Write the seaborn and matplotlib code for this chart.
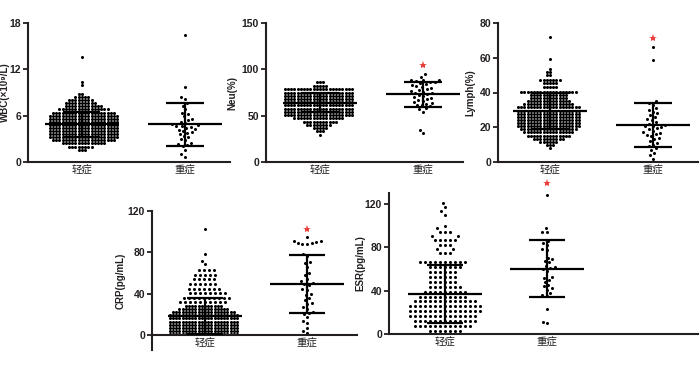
import warnings
import numpy as np
import pandas as pd
import matplotlib
matplotlib.use("Agg")
import matplotlib.pyplot as plt
import seaborn as sns

warnings.filterwarnings("ignore")

GROUPS = ['轻症', '重症']

# --- values ---
# mild groups are drawn as rows of dots: row value + number of dots in the row
wbc_mild_vals = [13.6, 10.4, 10.0, 8.8, 8.4, 8.0, 7.6, 7.2, 6.8, 6.4, 6.0, 5.6, 5.2, 4.8,
                 4.4, 4.0, 3.6, 3.2, 2.8, 2.4, 2.0, 1.6]
wbc_mild_counts = [1, 1, 1, 2, 5, 8, 10, 12, 16, 20, 22, 22, 22, 22, 22, 22, 22, 22, 20, 14, 8, 3]
wbc_severe = [16.4, 9.7, 8.4, 8.2, 7.6, 7.3, 6.8, 6.4, 6.2, 5.9, 5.6, 5.5, 5.2, 5.0, 4.9, 4.8,
              4.7, 4.6, 4.5, 4.4, 4.3, 4.2, 4.0, 3.9, 3.8, 3.6, 3.4, 3.2, 3.0, 2.8, 2.5, 2.3,
              2.2, 2.1, 1.6, 1.0, 0.7]

neu_mild_vals = [86, 82, 78.5, 75, 71.5, 68, 64.5, 61, 57.5, 54, 50.5, 47, 43.5, 40, 36.5, 33, 29.5]
neu_mild_counts = [3, 5, 22, 22, 22, 22, 22, 22, 22, 22, 22, 16, 11, 8, 5, 3, 1]
neu_severe = [95, 92, 89, 88, 88, 87, 86, 86, 85, 84, 83, 82, 81, 80, 79, 78, 77, 76, 75, 74,
              73, 72, 71, 70, 69, 68, 67, 66, 65, 64, 63, 62, 61, 60, 58, 57, 54, 35, 31]

lymph_mild_vals = [71.8, 59, 53.4, 51.6, 49.8, 47, 45.2, 43.4, 40.4, 38.6, 36.8, 35, 33.2, 31.4,
                   29.6, 27.8, 26, 24.2, 22.4, 20.6, 18.8, 17, 15.2, 13.4, 11.6, 9.8, 8]
lymph_mild_counts = [1, 1, 1, 2, 2, 7, 5, 5, 18, 12, 12, 14, 16, 20, 20, 20, 20, 20, 20, 20, 18,
                     16, 14, 10, 6, 3, 1]
lymph_severe = [66, 58.5, 35, 34, 33, 31, 30, 29, 28, 27, 26, 25, 24, 23, 22, 21.5, 21, 20.5, 20,
                19.5, 19, 18, 17, 16.5, 16, 15.5, 15, 14, 13, 12, 11, 10, 9, 8, 7, 5, 4, 2]

crp_mild_vals = [102.3, 78, 72, 68.5, 63, 58.5, 54, 49.5, 45, 40.5, 36, 31.5,
                 28, 25, 22, 19, 16, 13, 10, 7, 4, 1]
crp_mild_counts = [1, 1, 1, 1, 4, 5, 5, 6, 7, 8, 10, 10,
                   12, 16, 20, 22, 22, 22, 22, 22, 22, 22]
crp_severe = [95, 91, 90, 89, 88, 88, 89, 91, 78, 76, 71, 70, 66, 60, 58, 54, 52, 50, 49, 48, 45,
              44, 40, 39, 36, 34, 31, 30, 27, 25, 22, 21, 20, 17, 14, 12, 7, 4, 2]

esr_mild_vals = [121, 117, 113, 110, 100, 97.5, 94, 90, 86.5, 82, 78, 74.5, 66, 61.5, 57, 52.5,
                 48, 43.5, 39, 34.5, 30, 25.5, 21, 16.5, 12, 7.5, 3]
esr_mild_counts = [1, 1, 1, 1, 1, 1, 3, 2, 5, 3, 2, 3, 10, 7, 6, 6, 6, 7, 9, 10, 13, 15, 15, 14,
                   13, 12, 7]
esr_severe = [128, 98, 94, 94, 86, 84, 82, 78, 77, 70, 69, 67, 66, 63, 62, 61, 60, 58, 53, 52,
              50, 48, 45, 44, 42, 41, 38, 36, 35, 23.5, 11.5, 10]

# mean and SD bars (mild, severe)
wbc_mean, wbc_sd = [4.9, 4.9], [1.6, 2.8]
neu_mean, neu_sd = [64, 73], [10, 13.4]
lymph_mean, lymph_sd = [29.3, 21.2], [10.5, 12.8]
crp_mean, crp_sd = [18.4, 49.2], [17.6, 28.2]
esr_mean, esr_sd = [36.8, 60.3], [27, 26.5]

# red significance stars above the severe group
neu_star, lymph_star, crp_star, esr_star = 104.6, 71.2, 102.3, 139


def make_df(vals, counts, severe):
    mild = np.repeat(vals, counts)
    return pd.DataFrame({
        'group': ['轻症'] * len(mild) + ['重症'] * len(severe),
        'value': np.concatenate([mild, severe]),
    })


sns.set_style("ticks")
plt.rcParams['font.family'] = ['Liberation Sans', 'DejaVu Sans']

W, H = 700, 368
fig = plt.figure(figsize=(7, 3.68), dpi=100)

INK = '#231f20'
CJK = ['Noto Sans CJK SC', 'DejaVu Sans']


def swarm(ax, sub, gap):
    if len(sub):
        sns.swarmplot(data=sub, x='group', y='value', order=GROUPS, color='black',
                      size=2.2, linewidth=gap, edgecolor=(0, 0, 0, 0), ax=ax, zorder=2)


def draw_panel(px, df, ylabel, ylim, yticks, means, sds, star, xlim, label_x,
               zero_axis=False, loose_from=None):
    left, top, right, bottom = px
    ax = fig.add_axes([left / W, 1 - bottom / H, (right - left) / W, (bottom - top) / H])
    ax.set_xlim(xlim)
    ax.set_ylim(ylim)
    mild = df[df['group'] == '轻症']
    if loose_from is None:
        swarm(ax, mild, 0)
    else:
        # packed core, looser spread for the thin upper part
        swarm(ax, mild[mild['value'] < loose_from], 0)
        swarm(ax, mild[mild['value'] >= loose_from], 1.2)
    swarm(ax, df[df['group'] == '重症'], 1.0)
    for i in range(2):
        m, s = means[i], sds[i]
        ax.hlines(m, i - 0.36, i + 0.36, color='black', lw=1.6, zorder=3)
        ax.vlines(i, m - s, m + s, color='black', lw=1.6, zorder=3)
        ax.hlines([m - s, m + s], i - 0.18, i + 0.18, color='black', lw=1.6, zorder=3)
    if star is not None:
        ax.plot(1, star, marker='*', color='#e8403a', ms=6, mew=0, clip_on=False, zorder=4)
    ax.set_xlim(xlim)
    ax.set_ylim(ylim)
    sns.despine(ax=ax)
    if zero_axis:
        ax.spines['bottom'].set_position(('data', 0))
    for sp in ('left', 'bottom'):
        ax.spines[sp].set_linewidth(1.5)
        ax.spines[sp].set_color(INK)
    ax.set_yticks(yticks)
    ax.set_yticklabels([str(t) for t in yticks], fontsize=7.5, fontweight='bold', color=INK)
    ax.set_xticks([0, 1])
    ax.set_xticklabels(GROUPS, fontsize=7.5, family=CJK, color=INK)
    ax.set_xlabel('')
    ax.set_ylabel(ylabel, fontsize=7, fontweight='bold', color=INK)
    ax.yaxis.set_label_coords(label_x, 0.5)
    ax.tick_params(axis='y', length=3.5, width=1.3, color=INK, pad=1.5)
    ax.tick_params(axis='x', length=0, pad=3)
    ax.patch.set_alpha(0)
    return ax


draw_panel((28, 23, 230, 162), make_df(wbc_mild_vals, wbc_mild_counts, wbc_severe),
           'WBC(×10⁹/L)', (0, 18), [0, 6, 12, 18], wbc_mean, wbc_sd, None,
           (-0.523, 1.437), -0.09)
draw_panel((266, 23, 463, 162), make_df(neu_mild_vals, neu_mild_counts, neu_severe),
           'Neu(%)', (0, 150), [0, 50, 100, 150], neu_mean, neu_sd, neu_star,
           (-0.524, 1.388), -0.147)
draw_panel((498, 23, 698, 162), make_df(lymph_mild_vals, lymph_mild_counts, lymph_severe),
           'Lymph(%)', (0, 80), [0, 20, 40, 60, 80], lymph_mean, lymph_sd, lymph_star,
           (-0.505, 1.437), -0.115)
draw_panel((152, 211, 357, 350), make_df(crp_mild_vals, crp_mild_counts, crp_severe),
           'CRP(pg/mL)', (-14.5, 120), [0, 40, 80, 120], crp_mean, crp_sd, crp_star,
           (-0.52, 1.49), -0.13, zero_axis=True, loose_from=30)
draw_panel((389, 193, 698, 334), make_df(esr_mild_vals, esr_mild_counts, esr_severe),
           'ESR(pg/mL)', (0, 130), [0, 40, 80, 120], esr_mean, esr_sd, esr_star,
           (-0.549, 2.48), -0.078, loose_from=0)

fig.savefig('out.png', dpi=100)
